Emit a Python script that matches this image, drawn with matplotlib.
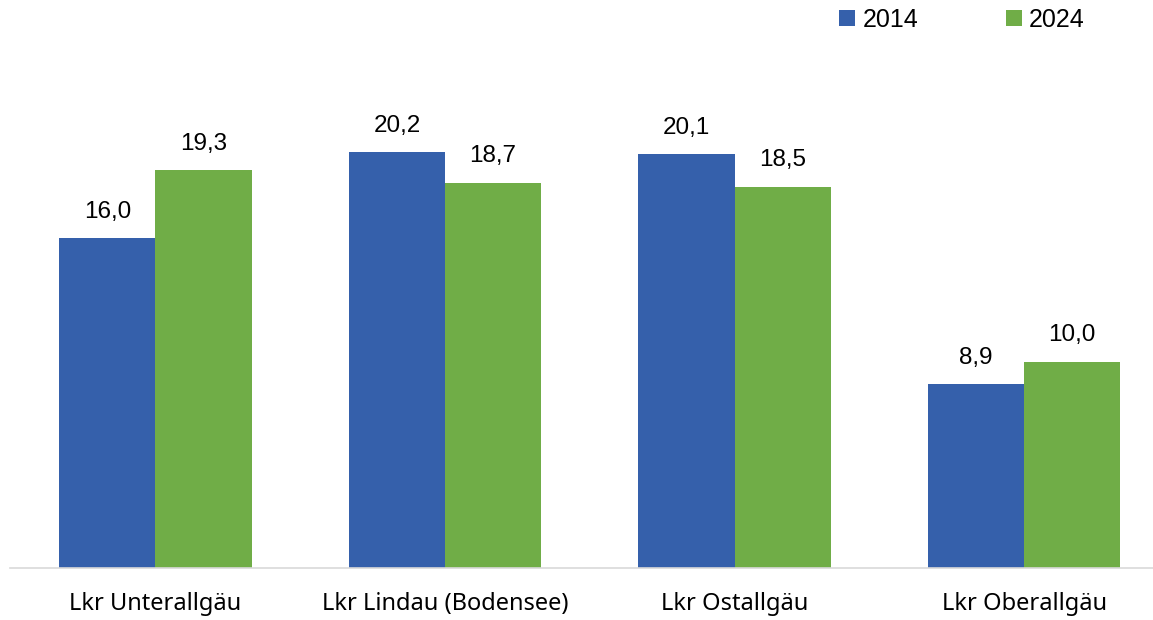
import matplotlib
matplotlib.use("Agg")
import matplotlib.pyplot as plt
import numpy as np

categories = ["Lkr Unterallgäu", "Lkr Lindau (Bodensee)", "Lkr Ostallgäu", "Lkr Oberallgäu"]
series_names = ["2014", "2024"]
values_2014 = [16.0, 20.2, 20.1, 8.9]
values_2024 = [19.3, 18.7, 18.5, 10.0]
colors = ["#3560AB", "#70AD47"]

W, H = 1153, 620
fig = plt.figure(figsize=(W / 100, H / 100), dpi=100)
left_px, right_px = 10, 1153
bottom_px, top_px = 567.5, 53
ax = fig.add_axes([left_px / W, (H - bottom_px) / H, (right_px - left_px) / W, (bottom_px - top_px) / H])

x = np.arange(len(categories))
bw = 0.332
num_font = "Liberation Sans"
for i, (vals, name, c) in enumerate(zip([values_2014, values_2024], series_names, colors)):
    bars = ax.bar(x + (i - 0.5) * bw, vals, width=bw, color=c, label=name, zorder=2)
    ax.bar_label(bars, labels=[f"{v:.1f}".replace(".", ",") for v in vals], padding=11,
                 fontsize=17.5, family=num_font, color="#000000")

ax.set_xlim(-0.502, 3.445)
ax.set_ylim(0, 25)
ax.set_xticks(x)
ax.set_xticklabels(categories, fontsize=17, family="Noto Sans", color="#000000")
ax.tick_params(axis="x", length=0, pad=18)
ax.set_yticks([])
for s in ["left", "right", "top"]:
    ax.spines[s].set_visible(False)
ax.spines["bottom"].set_color("#d9d9d9")
ax.spines["bottom"].set_linewidth(1.2)

leg = fig.legend(loc="center", bbox_to_anchor=(962 / W, 1 - 20 / H), ncol=2, frameon=False,
                 prop={"family": num_font, "size": 18}, handlelength=0.64, handleheight=0.64,
                 handletextpad=0.3, columnspacing=3.5, borderpad=0, borderaxespad=0)

fig.savefig("out.png", dpi=100)
